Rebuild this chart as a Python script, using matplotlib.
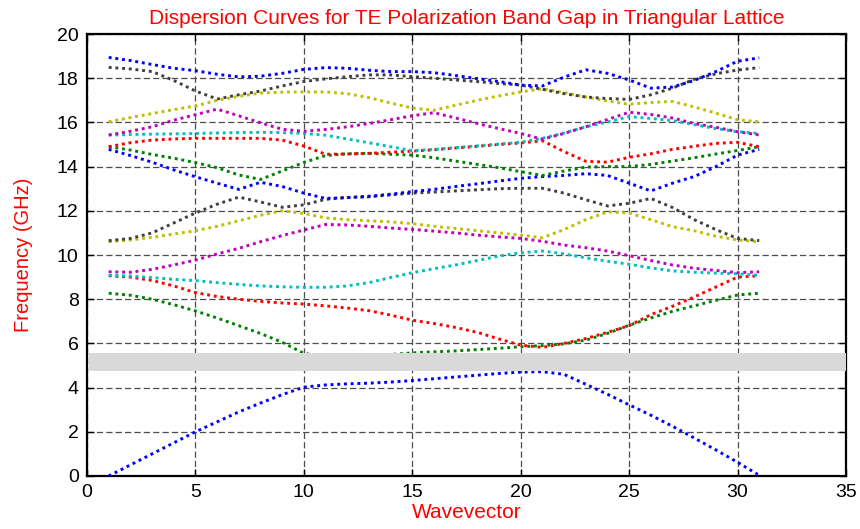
import numpy as np
import matplotlib
matplotlib.use("Agg")
from matplotlib import pyplot as plt

plt.rcParams["font.family"] = ["Liberation Sans", "DejaVu Sans"]

# wavevector index
k = np.arange(1, 32)

# bands from bottom to top (GHz), read at each wavevector point
band1 = [0.0, 0.5, 1.0, 1.5, 2.0, 2.45, 2.9, 3.3, 3.68, 4.02, 4.12, 4.17, 4.2, 4.25, 4.32, 4.4,
         4.48, 4.56, 4.64, 4.7, 4.72, 4.6, 4.15, 3.7, 3.22, 2.75, 2.25, 1.72, 1.18, 0.62, 0.03]
band2 = [8.27, 8.18, 8.0, 7.75, 7.47, 7.15, 6.8, 6.45, 6.05, 5.55, 5.4, 5.38, 5.42, 5.5, 5.57, 5.62,
         5.66, 5.72, 5.78, 5.85, 5.9, 5.98, 6.15, 6.45, 6.82, 7.15, 7.45, 7.7, 7.95, 8.19, 8.27]
band3 = [9.06, 9.0, 8.85, 8.6, 8.3, 8.12, 8.0, 7.9, 7.83, 7.78, 7.7, 7.6, 7.48, 7.28, 7.05, 6.9,
         6.72, 6.5, 6.2, 5.92, 5.82, 6.0, 6.22, 6.5, 6.8, 7.3, 7.68, 8.1, 8.55, 9.0, 9.06]
band4 = [9.08, 9.05, 8.98, 8.9, 8.84, 8.75, 8.67, 8.6, 8.56, 8.54, 8.54, 8.6, 8.75, 8.98, 9.2, 9.38,
         9.55, 9.75, 9.95, 10.1, 10.18, 10.05, 9.87, 9.72, 9.58, 9.42, 9.28, 9.22, 9.18, 9.15, 9.08]
band5 = [9.24, 9.22, 9.35, 9.55, 9.77, 10.05, 10.3, 10.6, 10.88, 11.13, 11.38, 11.36, 11.3, 11.22,
         11.16, 11.08, 11.0, 10.9, 10.82, 10.75, 10.62, 10.45, 10.33, 10.18, 9.97, 9.75, 9.55, 9.4,
         9.3, 9.2, 9.24]
band6 = [10.6, 10.68, 10.8, 10.95, 11.1, 11.3, 11.55, 11.8, 12.0, 11.88, 11.68, 11.6, 11.55, 11.5,
         11.42, 11.3, 11.2, 11.1, 11.0, 10.9, 10.78, 11.15, 11.6, 11.95, 11.9, 11.6, 11.28, 11.1,
         10.85, 10.68, 10.6]
band7 = [10.65, 10.75, 11.0, 11.45, 11.9, 12.3, 12.62, 12.4, 12.16, 12.27, 12.52, 12.6, 12.63, 12.72,
         12.8, 12.85, 12.9, 12.95, 13.0, 13.02, 13.02, 12.8, 12.5, 12.22, 12.34, 12.56, 12.15, 11.6,
         11.15, 10.75, 10.65]
band8 = [14.78, 14.5, 14.2, 13.85, 13.54, 13.25, 12.97, 13.29, 13.1, 12.8, 12.56, 12.6, 12.66, 12.75,
         12.87, 12.97, 13.1, 13.22, 13.35, 13.47, 13.55, 13.6, 13.68, 13.6, 13.25, 12.9, 13.25, 13.55,
         14.0, 14.52, 14.78]
band9 = [14.9, 14.75, 14.55, 14.38, 14.18, 13.95, 13.62, 13.42, 13.8, 14.19, 14.5, 14.58, 14.6, 14.56,
         14.52, 14.4, 14.25, 14.1, 13.95, 13.77, 13.6, 13.8, 13.98, 14.0, 14.0, 14.1, 14.25, 14.4,
         14.57, 14.73, 14.9]
band10 = [14.9, 15.08, 15.2, 15.25, 15.28, 15.28, 15.28, 15.28, 15.2, 14.93, 14.56, 14.57, 14.6, 14.65,
          14.7, 14.76, 14.84, 14.92, 15.0, 15.07, 15.17, 14.68, 14.24, 14.2, 14.42, 14.58, 14.78, 14.92,
          15.05, 15.1, 14.9]
band11 = [15.43, 15.45, 15.47, 15.48, 15.5, 15.52, 15.54, 15.55, 15.54, 15.5, 15.42, 15.25, 15.08,
          14.9, 14.72, 14.78, 14.86, 14.94, 15.02, 15.1, 15.28, 15.52, 15.8, 16.02, 16.26, 16.18,
          16.08, 15.9, 15.72, 15.58, 15.5]
band12 = [15.43, 15.6, 15.8, 16.1, 16.35, 16.6, 16.3, 15.98, 15.69, 15.6, 15.68, 15.8, 15.95, 16.12,
          16.3, 16.44, 16.2, 15.95, 15.72, 15.5, 15.24, 15.5, 15.8, 16.13, 16.46, 16.36, 16.2, 15.95,
          15.78, 15.58, 15.43]
band13 = [16.03, 16.22, 16.4, 16.58, 16.74, 17.0, 17.18, 17.33, 17.37, 17.38, 17.38, 17.3, 17.12,
          16.88, 16.65, 16.55, 16.78, 17.0, 17.2, 17.38, 17.52, 17.35, 17.15, 16.97, 16.82, 16.9,
          16.95, 16.7, 16.42, 16.12, 16.03]
band14 = [18.49, 18.42, 18.3, 17.9, 17.42, 17.06, 17.25, 17.42, 17.65, 17.85, 17.97, 18.07, 18.15,
          18.15, 18.07, 18.0, 17.92, 17.85, 17.76, 17.69, 17.5, 17.3, 17.15, 17.08, 17.04, 17.25,
          17.55, 17.95, 18.2, 18.37, 18.48]
band15 = [18.94, 18.8, 18.62, 18.45, 18.34, 18.18, 18.06, 18.09, 18.22, 18.4, 18.48, 18.45, 18.36,
          18.3, 18.3, 18.25, 18.12, 17.98, 17.85, 17.69, 17.65, 18.05, 18.38, 18.22, 17.92, 17.55,
          17.6, 17.9, 18.3, 18.77, 18.92]

bands = [band1, band2, band3, band4, band5, band6, band7, band8,
         band9, band10, band11, band12, band13, band14, band15]

# photonic band gap (GHz)
gap_low = 4.76
gap_high = 5.55

colors = ["#0000ff", "#008000", "#ff0000", "#00bfbf", "#bf00bf", "#bfbf00", "#404040"]

fig = plt.figure(figsize=(8.6, 5.29), dpi=100)
ax = fig.add_axes([0.1012, 0.1002, 0.8825, 0.8355])

for i, b in enumerate(bands):
    ax.plot(k, b, color=colors[i % len(colors)], linestyle=(0, (1, 1.3)), linewidth=2.1, zorder=3)

ax.axhspan(gap_low, gap_high, xmin=0.003, xmax=1.0, facecolor="#d9d9d9", edgecolor="none", zorder=4)

ax.set_xlim(0, 35)
ax.set_ylim(0, 20)
ax.set_xticks(np.arange(0, 36, 5))
ax.set_yticks(np.arange(0, 21, 2))
ax.grid(True, color="0.3", linestyle=(0, (5, 2.5)), linewidth=0.9, zorder=1)
ax.set_axisbelow(True)

ax.tick_params(direction="in", length=5, width=1, labelsize=14, top=True, right=True, pad=6)
for s in ax.spines.values():
    s.set_linewidth(1.6)

ax.set_title("Dispersion Curves for TE Polarization Band Gap in Triangular Lattice",
             color="red", fontsize=15, pad=7)
ax.set_xlabel("Wavevector", color="red", fontsize=15, labelpad=1)
ax.set_ylabel("Frequency (GHz)", color="red", fontsize=14.5, labelpad=17)

fig.savefig("out.png", dpi=100)
